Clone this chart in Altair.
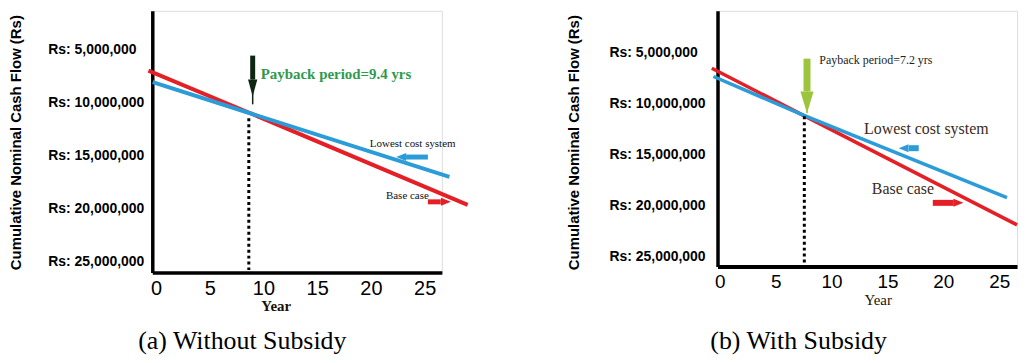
import altair as alt
import pandas as pd

RED = "#e41f26"
BLUE = "#2b9cd8"

x_ticks = [0, 5, 10, 15, 20, 25]
y_ticks = [5000000, 10000000, 15000000, 20000000, 25000000]
series_names = ["Base case", "Lowest cost system"]

# ---------- (a) Without Subsidy ----------
a_base_year = [-0.7, 8.9, 29.0]
a_base_val = [6950000, 11030000, 19630000]
a_low_year = [-0.3, 8.9, 27.3]
a_low_val = [8050000, 11030000, 17000000]
a_payback_year = [8.64]
a_payback_span = [11460000, 25800000]
a_marker_year = [9.0]
a_marker_val = [5540000, 7790000, 9390000, 10140000]  # top, neck, tip, stem end
a_payback_text = ["Payback period=9.4 yrs"]
a_payback_text_pos = [9.75, 7320000]
a_label_year = [21.4, 19.9]
a_label_val = [18790000, 13900000]
a_arrow_tail = [25.3, 25.3]
a_arrow_neck = [26.5, 23.27]
a_arrow_tip = [27.44, 22.35]
a_arrow_val = [19350000, 15120000]

# ---------- (b) With Subsidy ----------
b_base_year = [-0.72, 7.3, 26.6]
b_base_val = [6530000, 11050000, 21890000]
b_low_year = [-0.57, 7.3, 25.7]
b_low_val = [7340000, 11050000, 19210000]
b_payback_year = [7.56]
b_payback_span = [11240000, 25600000]
b_marker_year = [7.8]
b_marker_val = [5590000, 8800000, 10950000, 10950000]
b_payback_text = ["Payback period=7.2 yrs"]
b_payback_text_pos = [8.9, 5680000]
b_label_year = [13.6, 12.9]
b_label_val = [18370000, 12510000]
b_arrow_tail = [19.06, 17.8]
b_arrow_neck = [20.93, 16.91]
b_arrow_tip = [21.8, 16.0]
b_arrow_val = [19730000, 14370000]

RIGHT_HEAD = "M0,0L-2,-0.8L-2,0.8Z"
LEFT_HEAD = "M0,0L2,-0.8L2,0.8Z"


def panel(p):
    X = alt.X(
        "year:Q",
        scale=alt.Scale(domain=p["xdom"], nice=False, zero=False),
        axis=alt.Axis(
            values=x_ticks, grid=False, ticks=False, tickSize=0,
            domainColor="black", domainWidth=p["xdw"],
            labelFont="Liberation Sans", labelFontSize=p["xfs"], labelColor="black",
            labelPadding=p["xlp"], labelFlush=False, labelOverlap=False,
            title="Year", titleFont="Liberation Serif", titleFontSize=15,
            titleFontWeight=p["ytw"], titleColor="#1a1208",
            titleX=p["xtx"], titleY=p["xty"], titleAlign="center", titleBaseline="middle",
        ),
    )
    Y = alt.Y(
        "value:Q",
        scale=alt.Scale(domain=p["ydom"], reverse=True, nice=False, zero=False),
        axis=alt.Axis(
            values=y_ticks, grid=False, ticks=False, tickSize=0,
            labelExpr="'Rs: ' + format(datum.value, ',')",
            labelAlign="left", labelBaseline="middle", labelPadding=p["ylp"],
            labelFont="Liberation Sans", labelFontWeight="bold", labelFontSize=14,
            labelColor="black", labelFlush=False, labelOverlap=False,
            domainColor="black", domainWidth=3.5,
            title="Cumulative  Nominal Cash Flow (Rs)", titleFont="Liberation Sans",
            titleFontSize=15, titleFontWeight="bold", titleColor="black",
            titleAngle=270, titleX=p["ytx"], titleY=p["yty"],
            titleAlign="center", titleBaseline="middle",
        ),
    )
    cscale = alt.Scale(domain=series_names, range=[RED, BLUE])

    base = alt.Chart(pd.DataFrame({"year": p["base_year"], "value": p["base_val"]})).mark_line(
        color=RED, strokeWidth=p["lw"]).encode(x=X, y=Y)
    low = alt.Chart(pd.DataFrame({"year": p["low_year"], "value": p["low_val"]})).mark_line(
        color=BLUE, strokeWidth=p["lw"]).encode(x=X, y=Y)

    dotted = alt.Chart(pd.DataFrame({
        "year": p["pb_year"], "value": [p["pb_span"][0]], "value2": [p["pb_span"][1]]
    })).mark_rule(color="black", strokeWidth=3, strokeDash=[3, 3]).encode(x=X, y=Y, y2="value2:Q")

    mv = p["mk_val"]
    shaft = alt.Chart(pd.DataFrame({
        "year": p["mk_year"], "value": [mv[0]], "value2": [mv[1]]
    })).mark_rule(color=p["mk_color"], strokeWidth=p["mk_w"]).encode(x=X, y=Y, y2="value2:Q")
    stem = alt.Chart(pd.DataFrame({
        "year": p["mk_year"], "value": [mv[1]], "value2": [mv[3]]
    })).mark_rule(color=p["mk_color"], strokeWidth=1.5).encode(x=X, y=Y, y2="value2:Q")
    head = alt.Chart(pd.DataFrame({"year": p["mk_year"], "value": [mv[2]]})).mark_point(
        shape=p["mk_shape"], size=p["mk_size"], filled=True, opacity=1,
        color=p["mk_color"], strokeWidth=0).encode(x=X, y=Y)

    pb_text = alt.Chart(pd.DataFrame({
        "year": [p["pb_text_pos"][0]], "value": [p["pb_text_pos"][1]], "t": p["pb_text"]
    })).mark_text(align="left", baseline="middle", font="Liberation Serif",
                  fontSize=p["pb_fs"], fontWeight=p["pb_fw"], color=p["pb_color"]).encode(
        x=X, y=Y, text="t:N")

    lab = alt.Chart(pd.DataFrame({
        "year": p["lab_year"], "value": p["lab_val"], "t": series_names
    })).mark_text(align="left", baseline="middle", font="Liberation Serif",
                  fontSize=p["lab_fs"], color=p["lab_color"]).encode(x=X, y=Y, text="t:N")

    shaft_df = pd.DataFrame({
        "year": p["ar_tail"], "year2": p["ar_neck"], "value": p["ar_val"], "series": series_names,
    })
    head_df = pd.DataFrame({
        "year": p["ar_tip"], "value": p["ar_val"], "series": series_names,
    })
    ar_shaft = alt.Chart(shaft_df).mark_rule(strokeWidth=p["ar_w"]).encode(
        x=X, x2="year2:Q", y=Y,
        color=alt.Color("series:N", scale=cscale, legend=None))
    ar_head = alt.Chart(head_df).mark_point(filled=True, opacity=1, size=p["ar_size"], strokeWidth=0).encode(
        x=X, y=Y,
        color=alt.Color("series:N", scale=cscale, legend=None),
        shape=alt.Shape("series:N", scale=alt.Scale(domain=series_names, range=[RIGHT_HEAD, LEFT_HEAD]),
                        legend=None))

    return alt.layer(
        base, low, dotted, shaft, stem, head, pb_text, lab, ar_shaft, ar_head
    ).properties(
        width=p["w"], height=p["h"],
        title=alt.TitleParams(
            p["caption"], orient="bottom", anchor="middle", frame="group",
            font="Liberation Serif", fontSize=26, fontWeight="normal", color="black",
            dx=p["cap_dx"], offset=p["cap_off"]),
    )


pa = panel(dict(
    xdom=[-0.34, 26.6], ydom=[1310000, 26030000], w=291, h=263,
    xdw=3.5, xfs=20, xlp=6, xtx=124, xty=33, ytw="bold",
    ylp=105, ytx=-137, yty=132, lw=4,
    base_year=a_base_year, base_val=a_base_val, low_year=a_low_year, low_val=a_low_val,
    pb_year=a_payback_year, pb_span=a_payback_span,
    mk_year=a_marker_year, mk_val=a_marker_val, mk_color="#0d2612", mk_w=5,
    mk_shape="M0,0L-0.55,-2L0.55,-2Z", mk_size=289,
    pb_text=a_payback_text, pb_text_pos=a_payback_text_pos, pb_fs=15, pb_fw="bold", pb_color="#2f9a4c",
    lab_year=a_label_year, lab_val=a_label_val, lab_fs=11, lab_color="#111111",
    ar_tail=a_arrow_tail, ar_neck=a_arrow_neck, ar_tip=a_arrow_tip, ar_val=a_arrow_val,
    ar_w=5, ar_size=100,
    caption="(a) Without Subsidy", cap_dx=-55, cap_off=15,
))

pb = panel(dict(
    xdom=[-0.21, 26.6], ydom=[900000, 25980000], w=301, h=257,
    xdw=4, xfs=19, xlp=6, xtx=161, xty=33, ytw="normal",
    ylp=109, ytx=-145, yty=132, lw=3.5,
    base_year=b_base_year, base_val=b_base_val, low_year=b_low_year, low_val=b_low_val,
    pb_year=b_payback_year, pb_span=b_payback_span,
    mk_year=b_marker_year, mk_val=b_marker_val, mk_color="#9cc43c", mk_w=7,
    mk_shape="M0,0L-0.6,-2L0.6,-2Z", mk_size=484,
    pb_text=b_payback_text, pb_text_pos=b_payback_text_pos, pb_fs=12, pb_fw="normal", pb_color="#222222",
    lab_year=b_label_year, lab_val=b_label_val, lab_fs=16, lab_color="#3a2b20",
    ar_tail=b_arrow_tail, ar_neck=b_arrow_neck, ar_tip=b_arrow_tip, ar_val=b_arrow_val,
    ar_w=6, ar_size=100,
    caption="(b) With Subsidy", cap_dx=-69, cap_off=21,
))

chart = alt.hconcat(pa, pb, spacing=277, bounds="flush").properties(
    padding={"left": 0, "top": 1, "right": 0, "bottom": 0}
).configure_view(stroke=None).configure(background="white")

chart.save("out.html", embed_options={"renderer": "svg", "actions": False})
